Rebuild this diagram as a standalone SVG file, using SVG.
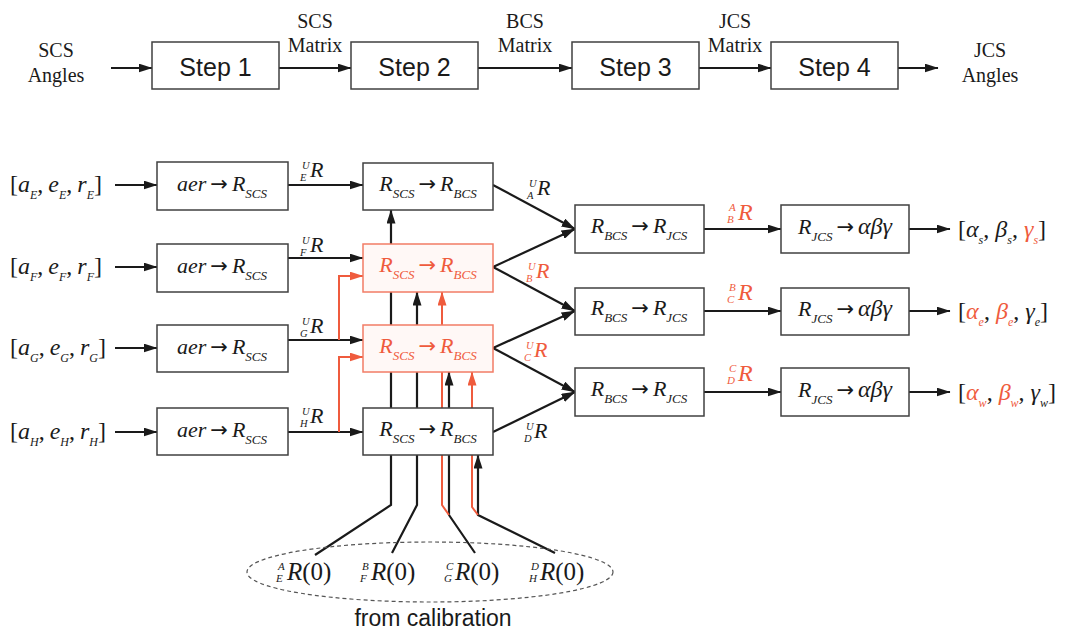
<svg xmlns="http://www.w3.org/2000/svg" width="1071" height="630" viewBox="0 0 1071 630">
<style>
.bg{fill:#fff}
.box{fill:#fff;stroke:#404040;stroke-width:1.5}
.rbox{fill:#fff8f6;stroke:#f27c66;stroke-width:1.5}
.ln{fill:none;stroke:#1a1a1a;stroke-width:2.2}
.rl{fill:none;stroke:#ef5b3d;stroke-width:2}
.ell{fill:none;stroke:#555;stroke-width:1.2;stroke-dasharray:4 3}
.m{font-family:"Liberation Serif",serif;font-style:italic;font-size:22px;fill:#1a1a1a}
.lab{font-family:"Liberation Serif",serif;font-size:20px;fill:#1a1a1a;text-anchor:middle}
.step{font-family:"Liberation Sans",Arial,sans-serif;font-size:25px;fill:#1a1a1a;text-anchor:middle}
.cal{font-family:"Liberation Sans",Arial,sans-serif;font-size:23px;fill:#1a1a1a;text-anchor:middle}
.up{font-style:normal}
.arr{font-family:"DejaVu Sans",sans-serif;font-style:normal;font-size:21px}
.sub{font-size:13px}
.s2{font-size:12px}
.pre{font-size:10.5px}
.pre2{font-size:11px}
.gk{font-size:24px}
.red{fill:#ef5b3d}
.mid{text-anchor:middle}
</style>
<defs>
<marker id="ah" viewBox="0 0 14 9" refX="13.5" refY="4.5" markerWidth="14" markerHeight="9" markerUnits="userSpaceOnUse" orient="auto"><path d="M0,0 L14,4.5 L0,9 z" fill="#1a1a1a"/></marker>
<marker id="ahr" viewBox="0 0 14 9" refX="13.5" refY="4.5" markerWidth="14" markerHeight="9" markerUnits="userSpaceOnUse" orient="auto"><path d="M0,0 L14,4.5 L0,9 z" fill="#ef5b3d"/></marker>
</defs>
<rect class="bg" x="0" y="0" width="1071" height="630"/>

<g id="connectors">
<path class="ln" d="M111 68 H152" marker-end="url(#ah)"/>
<path class="ln" d="M279 68 H351" marker-end="url(#ah)"/>
<path class="ln" d="M478 68 H572" marker-end="url(#ah)"/>
<path class="ln" d="M699 68 H771" marker-end="url(#ah)"/>
<path class="ln" d="M898 68 H938" marker-end="url(#ah)"/>

<path class="ln" d="M115 185 H157" marker-end="url(#ah)"/>
<path class="ln" d="M115 267 H157" marker-end="url(#ah)"/>
<path class="ln" d="M115 348 H157" marker-end="url(#ah)"/>
<path class="ln" d="M115 432 H157" marker-end="url(#ah)"/>

<path class="ln" d="M288 185 H363" marker-end="url(#ah)"/>
<path class="ln" d="M288 258 H363" marker-end="url(#ah)"/>
<path class="ln" d="M288 340 H363" marker-end="url(#ah)"/>
<path class="ln" d="M288 432 H363" marker-end="url(#ah)"/>
<path class="rl" d="M339 340 V276 H363" marker-end="url(#ahr)"/>
<path class="rl" d="M339 432 V357 H363" marker-end="url(#ahr)"/>

<path class="ln" d="M315 555 L391 505 V210" marker-end="url(#ah)"/>
<path class="ln" d="M392 553 L417 505 V292" marker-end="url(#ah)"/>
<path class="ln" d="M475 553 L449 515 V372" marker-end="url(#ah)"/>
<path class="ln" d="M555 553 L478 515 V455" marker-end="url(#ah)"/>
<path class="rl" d="M449 515 L442 505 V292" marker-end="url(#ahr)"/>
<path class="rl" d="M478 515 L472 507 V372" marker-end="url(#ahr)"/>

<path class="ln" d="M493 185 L575 229" marker-end="url(#ah)"/>
<path class="ln" d="M493 267 L575 229" marker-end="url(#ah)"/>
<path class="ln" d="M493 267 L575 311" marker-end="url(#ah)"/>
<path class="ln" d="M493 348 L575 311" marker-end="url(#ah)"/>
<path class="ln" d="M493 348 L575 392" marker-end="url(#ah)"/>
<path class="ln" d="M493 432 L575 392" marker-end="url(#ah)"/>

<path class="ln" d="M704 229 H781" marker-end="url(#ah)"/>
<path class="ln" d="M704 311 H781" marker-end="url(#ah)"/>
<path class="ln" d="M704 392 H781" marker-end="url(#ah)"/>
<path class="ln" d="M909 229 H950" marker-end="url(#ah)"/>
<path class="ln" d="M909 311 H950" marker-end="url(#ah)"/>
<path class="ln" d="M909 392 H950" marker-end="url(#ah)"/>
</g>

<g id="top-labels">
<text class="lab" x="56" y="57">SCS</text><text class="lab" x="56" y="82">Angles</text>
<text class="lab" x="315" y="28">SCS</text><text class="lab" x="315" y="52">Matrix</text>
<text class="lab" x="525" y="28">BCS</text><text class="lab" x="525" y="52">Matrix</text>
<text class="lab" x="735" y="28">JCS</text><text class="lab" x="735" y="52">Matrix</text>
<text class="lab" x="990" y="57">JCS</text><text class="lab" x="990" y="82">Angles</text>
</g>
<g id="step1"><rect class="box" x="152" y="42" width="127" height="47"/><text class="step" x="215.5" y="76">Step 1</text></g>
<g id="step2"><rect class="box" x="351" y="42" width="127" height="47"/><text class="step" x="414.5" y="76">Step 2</text></g>
<g id="step3"><rect class="box" x="572" y="42" width="127" height="47"/><text class="step" x="635.5" y="76">Step 3</text></g>
<g id="step4"><rect class="box" x="771" y="42" width="127" height="47"/><text class="step" x="834.5" y="76">Step 4</text></g>

<g id="inputs" class="m" style="font-size:24px">
<text x="10" y="192"><tspan class="up">[</tspan>a<tspan class="s2" dy="7">E</tspan><tspan dy="-7" class="up">,</tspan><tspan dx="5">e</tspan><tspan class="s2" dy="7">E</tspan><tspan dy="-7" class="up">,</tspan><tspan dx="5">r</tspan><tspan class="s2" dy="7">E</tspan><tspan dy="-7" class="up">]</tspan></text>
<text x="10" y="274"><tspan class="up">[</tspan>a<tspan class="s2" dy="7">F</tspan><tspan dy="-7" class="up">,</tspan><tspan dx="5">e</tspan><tspan class="s2" dy="7">F</tspan><tspan dy="-7" class="up">,</tspan><tspan dx="5">r</tspan><tspan class="s2" dy="7">F</tspan><tspan dy="-7" class="up">]</tspan></text>
<text x="10" y="355"><tspan class="up">[</tspan>a<tspan class="s2" dy="7">G</tspan><tspan dy="-7" class="up">,</tspan><tspan dx="5">e</tspan><tspan class="s2" dy="7">G</tspan><tspan dy="-7" class="up">,</tspan><tspan dx="5">r</tspan><tspan class="s2" dy="7">G</tspan><tspan dy="-7" class="up">]</tspan></text>
<text x="10" y="439"><tspan class="up">[</tspan>a<tspan class="s2" dy="7">H</tspan><tspan dy="-7" class="up">,</tspan><tspan dx="5">e</tspan><tspan class="s2" dy="7">H</tspan><tspan dy="-7" class="up">,</tspan><tspan dx="5">r</tspan><tspan class="s2" dy="7">H</tspan><tspan dy="-7" class="up">]</tspan></text>
</g>

<g id="aerE"><rect class="box" x="157" y="162" width="131" height="48"/><text class="m mid" x="222" y="191">aer<tspan class="arr" dx="4">→</tspan><tspan dx="4">R</tspan><tspan class="sub" dy="7">SCS</tspan></text></g>
<g id="aerF"><rect class="box" x="157" y="244" width="131" height="48"/><text class="m mid" x="222" y="273">aer<tspan class="arr" dx="4">→</tspan><tspan dx="4">R</tspan><tspan class="sub" dy="7">SCS</tspan></text></g>
<g id="aerG"><rect class="box" x="157" y="325" width="131" height="47"/><text class="m mid" x="222" y="354">aer<tspan class="arr" dx="4">→</tspan><tspan dx="4">R</tspan><tspan class="sub" dy="7">SCS</tspan></text></g>
<g id="aerH"><rect class="box" x="157" y="408" width="131" height="47"/><text class="m mid" x="222" y="437">aer<tspan class="arr" dx="4">→</tspan><tspan dx="4">R</tspan><tspan class="sub" dy="7">SCS</tspan></text></g>

<g id="labels-R" class="m">
<g transform="translate(310,177)"><text x="-8" y="-8" class="pre">U</text><text x="-10" y="4" class="pre">E</text><text x="0" y="0">R</text></g>
<g transform="translate(310,252)"><text x="-8" y="-8" class="pre">U</text><text x="-10" y="4" class="pre">F</text><text x="0" y="0">R</text></g>
<g transform="translate(310,333)"><text x="-8" y="-8" class="pre">U</text><text x="-10" y="4" class="pre">G</text><text x="0" y="0">R</text></g>
<g transform="translate(310,423)"><text x="-8" y="-8" class="pre">U</text><text x="-10" y="4" class="pre">H</text><text x="0" y="0">R</text></g>
<g transform="translate(537,195)"><text x="-8" y="-8" class="pre">U</text><text x="-10" y="4" class="pre">A</text><text x="0" y="0">R</text></g>
<g transform="translate(536,278)"><text x="-8" y="-8" class="pre red">U</text><text x="-10" y="4" class="pre red">B</text><text x="0" y="0" class="red">R</text></g>
<g transform="translate(534,357)"><text x="-8" y="-8" class="pre red">U</text><text x="-10" y="4" class="pre red">C</text><text x="0" y="0" class="red">R</text></g>
<g transform="translate(534,438)"><text x="-8" y="-8" class="pre">U</text><text x="-10" y="4" class="pre">D</text><text x="0" y="0">R</text></g>
<g transform="translate(738,220)" style="font-size:24px"><text x="-9" y="-9" class="pre2 red">A</text><text x="-11" y="3" class="pre2 red">B</text><text x="0" y="0" class="red">R</text></g>
<g transform="translate(738,300)" style="font-size:24px"><text x="-9" y="-9" class="pre2 red">B</text><text x="-11" y="3" class="pre2 red">C</text><text x="0" y="0" class="red">R</text></g>
<g transform="translate(738,381)" style="font-size:24px"><text x="-9" y="-9" class="pre2 red">C</text><text x="-11" y="3" class="pre2 red">D</text><text x="0" y="0" class="red">R</text></g>
</g>

<g id="bcsE"><rect class="box" x="363" y="163" width="130" height="47"/><text class="m mid" x="428" y="191">R<tspan class="sub" dy="7">SCS</tspan><tspan class="arr" dy="-7" dx="4">→</tspan><tspan dx="4">R</tspan><tspan class="sub" dy="7">BCS</tspan></text></g>
<g id="bcsF"><rect class="rbox" x="363" y="244" width="130" height="48"/><text class="m mid red" x="428" y="272">R<tspan class="sub" dy="7">SCS</tspan><tspan class="arr" dy="-7" dx="4">→</tspan><tspan dx="4">R</tspan><tspan class="sub" dy="7">BCS</tspan></text></g>
<g id="bcsG"><rect class="rbox" x="363" y="325" width="130" height="47"/><text class="m mid red" x="428" y="353">R<tspan class="sub" dy="7">SCS</tspan><tspan class="arr" dy="-7" dx="4">→</tspan><tspan dx="4">R</tspan><tspan class="sub" dy="7">BCS</tspan></text></g>
<g id="bcsH"><rect class="box" x="363" y="408" width="130" height="47"/><text class="m mid" x="428" y="436">R<tspan class="sub" dy="7">SCS</tspan><tspan class="arr" dy="-7" dx="4">→</tspan><tspan dx="4">R</tspan><tspan class="sub" dy="7">BCS</tspan></text></g>

<g id="jcs1"><rect class="box" x="575" y="205" width="129" height="48"/><text class="m mid" x="639" y="233">R<tspan class="sub" dy="7">BCS</tspan><tspan class="arr" dy="-7" dx="4">→</tspan><tspan dx="4">R</tspan><tspan class="sub" dy="7">JCS</tspan></text></g>
<g id="jcs2"><rect class="box" x="575" y="288" width="129" height="47"/><text class="m mid" x="639" y="315">R<tspan class="sub" dy="7">BCS</tspan><tspan class="arr" dy="-7" dx="4">→</tspan><tspan dx="4">R</tspan><tspan class="sub" dy="7">JCS</tspan></text></g>
<g id="jcs3"><rect class="box" x="575" y="368" width="129" height="48"/><text class="m mid" x="639" y="396">R<tspan class="sub" dy="7">BCS</tspan><tspan class="arr" dy="-7" dx="4">→</tspan><tspan dx="4">R</tspan><tspan class="sub" dy="7">JCS</tspan></text></g>

<g id="abg1"><rect class="box" x="781" y="205" width="128" height="48"/><text class="m mid" x="845" y="234">R<tspan class="sub" dy="7">JCS</tspan><tspan class="arr" dy="-7" dx="4">→</tspan><tspan class="gk" dx="4">αβγ</tspan></text></g>
<g id="abg2"><rect class="box" x="781" y="288" width="128" height="47"/><text class="m mid" x="845" y="316">R<tspan class="sub" dy="7">JCS</tspan><tspan class="arr" dy="-7" dx="4">→</tspan><tspan class="gk" dx="4">αβγ</tspan></text></g>
<g id="abg3"><rect class="box" x="781" y="368" width="128" height="48"/><text class="m mid" x="845" y="397">R<tspan class="sub" dy="7">JCS</tspan><tspan class="arr" dy="-7" dx="4">→</tspan><tspan class="gk" dx="4">αβγ</tspan></text></g>

<g id="outputs" class="m" style="font-size:24px">
<text x="958" y="237"><tspan class="up">[</tspan>α<tspan class="s2" dy="7">s</tspan><tspan dy="-7" class="up">,</tspan><tspan dx="6">β</tspan><tspan class="s2" dy="7">s</tspan><tspan dy="-7" class="up">,</tspan><tspan class="red" dx="6">γ</tspan><tspan class="s2 red" dy="7">s</tspan><tspan dy="-7" class="up">]</tspan></text>
<text x="958" y="319"><tspan class="up">[</tspan><tspan class="red">α</tspan><tspan class="s2 red" dy="7">e</tspan><tspan dy="-7" class="up">,</tspan><tspan class="red" dx="6">β</tspan><tspan class="s2 red" dy="7">e</tspan><tspan dy="-7" class="up">,</tspan><tspan dx="6">γ</tspan><tspan class="s2" dy="7">e</tspan><tspan dy="-7" class="up">]</tspan></text>
<text x="958" y="400"><tspan class="up">[</tspan><tspan class="red">α</tspan><tspan class="s2 red" dy="7">w</tspan><tspan dy="-7" class="up">,</tspan><tspan class="red" dx="6">β</tspan><tspan class="s2 red" dy="7">w</tspan><tspan dy="-7" class="up">,</tspan><tspan dx="6">γ</tspan><tspan class="s2" dy="7">w</tspan><tspan dy="-7" class="up">]</tspan></text>
</g>

<g id="calibration">
<ellipse class="ell" cx="430" cy="572" rx="183" ry="30"/>
<g class="m" style="font-size:25px">
<g transform="translate(287,580)"><text x="-9" y="-10" class="pre2">A</text><text x="-11" y="2" class="pre2">E</text><text x="0" y="0">R<tspan class="up">(0)</tspan></text></g>
<g transform="translate(371,580)"><text x="-9" y="-10" class="pre2">B</text><text x="-11" y="2" class="pre2">F</text><text x="0" y="0">R<tspan class="up">(0)</tspan></text></g>
<g transform="translate(455,580)"><text x="-9" y="-10" class="pre2">C</text><text x="-11" y="2" class="pre2">G</text><text x="0" y="0">R<tspan class="up">(0)</tspan></text></g>
<g transform="translate(540,580)"><text x="-9" y="-10" class="pre2">D</text><text x="-11" y="2" class="pre2">H</text><text x="0" y="0">R<tspan class="up">(0)</tspan></text></g>
</g>
<text class="cal" x="433" y="626">from calibration</text>
</g>
</svg>
